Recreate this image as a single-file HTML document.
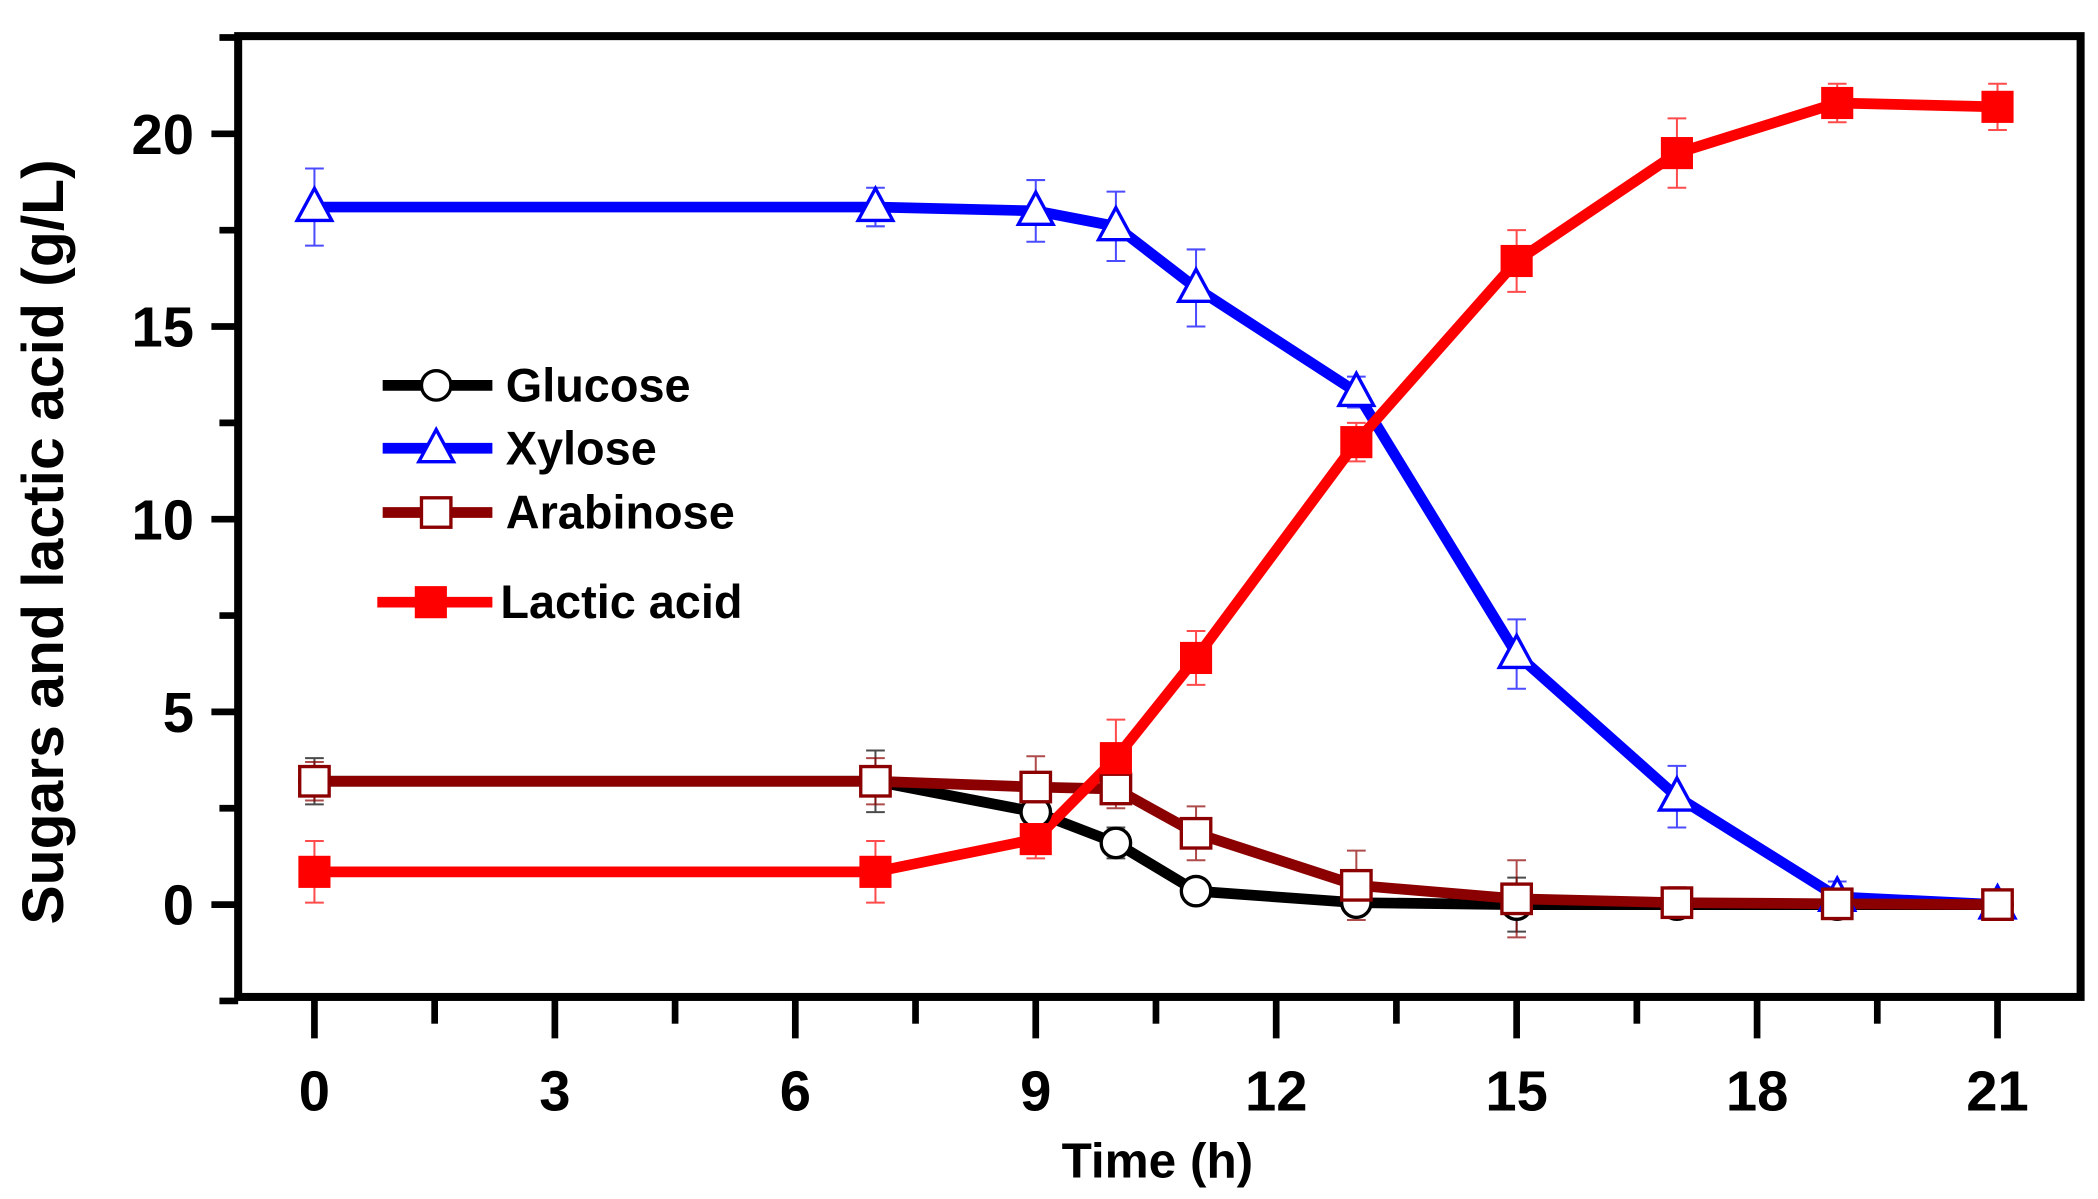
<!DOCTYPE html>
<html><head><meta charset="utf-8"><style>html,body{margin:0;padding:0;background:#fff;overflow:hidden}svg{display:block}</style></head>
<body>
<svg id="s" width="2098" height="1199" viewBox="0 0 1568 896" preserveAspectRatio="none" xmlns="http://www.w3.org/2000/svg" font-family="'Liberation Sans', Arial, sans-serif" font-weight="bold"></svg>
<script>
const s=document.getElementById('s');
const X=t=>235+t*59.9, Y=v=>676-v*28.8;
let h='';
h+='<rect x="178" y="27" width="1377" height="718" fill="none" stroke="#000" stroke-width="6"/>';
for(let i=0;i<=14;i++){const x=X(i*1.5);h+=`<line x1="${x}" y1="745" x2="${x}" y2="${i%2?765:776}" stroke="#000" stroke-width="5"/>`;if(i%2==0)h+=`<text x="${x}" y="830" font-size="42" text-anchor="middle">${i*1.5}</text>`;}
for(let i=-1;i<=9;i++){const v=i*2.5,y=Y(v);h+=`<line x1="178" y1="${y}" x2="${i%2?164:158}" y2="${y}" stroke="#000" stroke-width="5"/>`;if(i%2==0&&i>=0)h+=`<text x="145" y="${y+15}" font-size="42" text-anchor="end">${v}</text>`;}
h+='<text x="865" y="880" font-size="37" text-anchor="middle">Time (h)</text>';
h+='<text transform="translate(47,405) rotate(-90)" font-size="44" text-anchor="middle">Sugars and lactic acid (g/L)</text>';
const T=[0,7,9,10,11,13,15,17,19,21];
const S=[
{c:'#000',m:'o',d:[3.2,3.2,2.4,1.6,0.35,0.05,0,0,0,0],e:[0.6,0.8,0.5,0.4,0.2,0.2,0.7,0.3,0.2,0.1]},
{c:'#0000ff',m:'t',d:[18.1,18.1,18.0,17.6,16.0,13.3,6.5,2.8,0.2,0],e:[1,0.5,0.8,0.9,1,0.4,0.9,0.8,0.4,0.2]},
{c:'#8b0000',m:'s',d:[3.2,3.2,3.05,3.0,1.85,0.5,0.15,0.05,0.02,0],e:[0.5,0.6,0.8,0.5,0.7,0.9,1,0.4,0.2,0.1]},
{c:'#ff0000',m:'f',d:[0.85,0.85,1.7,3.8,6.4,12.0,16.7,19.5,20.8,20.7],e:[0.8,0.8,0.5,1,0.7,0.5,0.8,0.9,0.5,0.6]}];
function mk(m,x,y,c){
 if(m=='o')return `<circle cx="${x}" cy="${y}" r="11" fill="#fff" stroke="#000" stroke-width="2.5"/>`;
 if(m=='t')return `<polygon points="${x},${y-14} ${x-13},${y+10} ${x+13},${y+10}" fill="#fff" stroke="#0000ff" stroke-width="2.5"/>`;
 if(m=='s')return `<rect x="${x-11}" y="${y-11}" width="22" height="22" fill="#fff" stroke="#8b0000" stroke-width="2.5"/>`;
 return `<rect x="${x-12}" y="${y-12}" width="24" height="24" fill="#ff0000"/>`;}
S.forEach(sr=>{
 h+=`<polyline points="${T.map((t,i)=>X(t)+','+Y(sr.d[i])).join(' ')}" fill="none" stroke="${sr.c}" stroke-width="8" stroke-linejoin="round"/>`;
 T.forEach((t,i)=>{const x=X(t),y1=Y(sr.d[i]+sr.e[i]),y2=Y(sr.d[i]-sr.e[i]);h+=`<path d="M${x} ${y1}V${y2}M${x-7} ${y1}H${x+7}M${x-7} ${y2}H${x+7}" stroke="${sr.c}" stroke-width="1.5" opacity="0.7"/>`;});
});
S.forEach(sr=>T.forEach((t,i)=>h+=mk(sr.m,X(t),Y(sr.d[i]),sr.c)));
const L=[['Glucose',288,0],['Xylose',335,1],['Arabinose',383,2],['Lactic acid',450,3]];
L.forEach(([n,y,k])=>{const sr=S[k];h+=`<line x1="${k==3?282:286}" y1="${y}" x2="368" y2="${y}" stroke="${sr.c}" stroke-width="8"/>`+mk(sr.m,k==3?322:326,y,sr.c)+`<text x="${k==3?374:378}" y="${y+12}" font-size="35">${n}</text>`;});
s.innerHTML=h;
</script>
</body></html>
